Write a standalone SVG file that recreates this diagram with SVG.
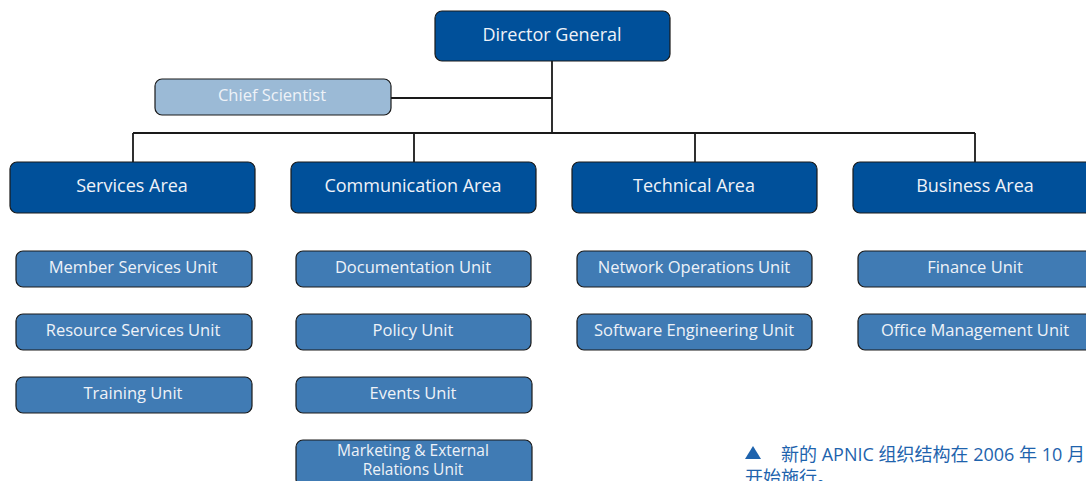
<svg xmlns="http://www.w3.org/2000/svg" width="1086" height="481" viewBox="0 0 1086 481">
<style>
.dg{fill:#00509a;stroke:#1a1a1a;stroke-width:1.2}
.cs{fill:#9bbad6;stroke:#1a1a1a;stroke-width:1.2}
.ar{fill:#00509a;stroke:#1a1a1a;stroke-width:1.2}
.un{fill:#407bb4;stroke:#1a1a1a;stroke-width:1.2}
.t{font-family:"Open Sans","DejaVu Sans",sans-serif;fill:#eef2f8;text-anchor:middle}
.big{font-size:18px}
.sm{font-size:16.5px}
.mk{font-size:15.5px}
.ln{stroke:#1a1a1a;stroke-width:1.8;fill:none}
.cap{font-family:"Open Sans","Noto Sans CJK SC",sans-serif;font-size:18px;fill:#1e63ad}
</style>
<g id="connectors">
<path class="ln" d="M552 61V133M391 98H552M133 133H975M133 133V162M414 133V162M695 133V162M975 133V162"/>
</g>
<g id="director"><rect class="dg" x="435" y="11" width="235" height="50" rx="7"/><text class="t big" x="552" y="41">Director General</text></g>
<g id="chief"><rect class="cs" x="155" y="79" width="236" height="36" rx="7"/><text class="t sm" x="272" y="101">Chief Scientist</text></g>
<g id="services"><rect class="ar" x="10" y="162" width="245" height="51" rx="7"/><text class="t big" x="132" y="192">Services Area</text></g>
<g id="communication"><rect class="ar" x="291" y="162" width="245" height="51" rx="7"/><text class="t big" x="413" y="192">Communication Area</text></g>
<g id="technical"><rect class="ar" x="572" y="162" width="245" height="51" rx="7"/><text class="t big" x="694" y="192">Technical Area</text></g>
<g id="business"><rect class="ar" x="853" y="162" width="245" height="51" rx="7"/><text class="t big" x="975" y="192">Business Area</text></g>
<g id="member"><rect class="un" x="16" y="251" width="236" height="36" rx="7"/><text class="t sm" x="133" y="273">Member Services Unit</text></g>
<g id="resource"><rect class="un" x="16" y="314" width="236" height="36" rx="7"/><text class="t sm" x="133" y="336">Resource Services Unit</text></g>
<g id="training"><rect class="un" x="16" y="377" width="236" height="36" rx="7"/><text class="t sm" x="133" y="399">Training Unit</text></g>
<g id="documentation"><rect class="un" x="296" y="251" width="235" height="36" rx="7"/><text class="t sm" x="413" y="273">Documentation Unit</text></g>
<g id="policy"><rect class="un" x="296" y="314" width="235" height="36" rx="7"/><text class="t sm" x="413" y="336">Policy Unit</text></g>
<g id="events"><rect class="un" x="296" y="377" width="236" height="36" rx="7"/><text class="t sm" x="413" y="399">Events Unit</text></g>
<g id="marketing"><rect class="un" x="296" y="440" width="236" height="46" rx="7"/><text class="t mk" x="413" y="456">Marketing &amp; External</text><text class="t mk" x="413" y="475">Relations Unit</text></g>
<g id="netops"><rect class="un" x="577" y="251" width="235" height="36" rx="7"/><text class="t sm" x="694" y="273">Network Operations Unit</text></g>
<g id="software"><rect class="un" x="577" y="314" width="235" height="36" rx="7"/><text class="t sm" x="694" y="336">Software Engineering Unit</text></g>
<g id="finance"><rect class="un" x="858" y="251" width="236" height="36" rx="7"/><text class="t sm" x="975" y="273">Finance Unit</text></g>
<g id="office"><rect class="un" x="858" y="314" width="236" height="36" rx="7"/><text class="t sm" x="975" y="336">Office Management Unit</text></g>
<g id="caption">
<polygon points="745,459 753,446 761,459" fill="#1e63ad"/>
<text class="cap" x="781" y="461">新的 APNIC 组织结构在 2006 年 10 月</text>
<text class="cap" x="745" y="484">开始施行。</text>
</g>
</svg>
